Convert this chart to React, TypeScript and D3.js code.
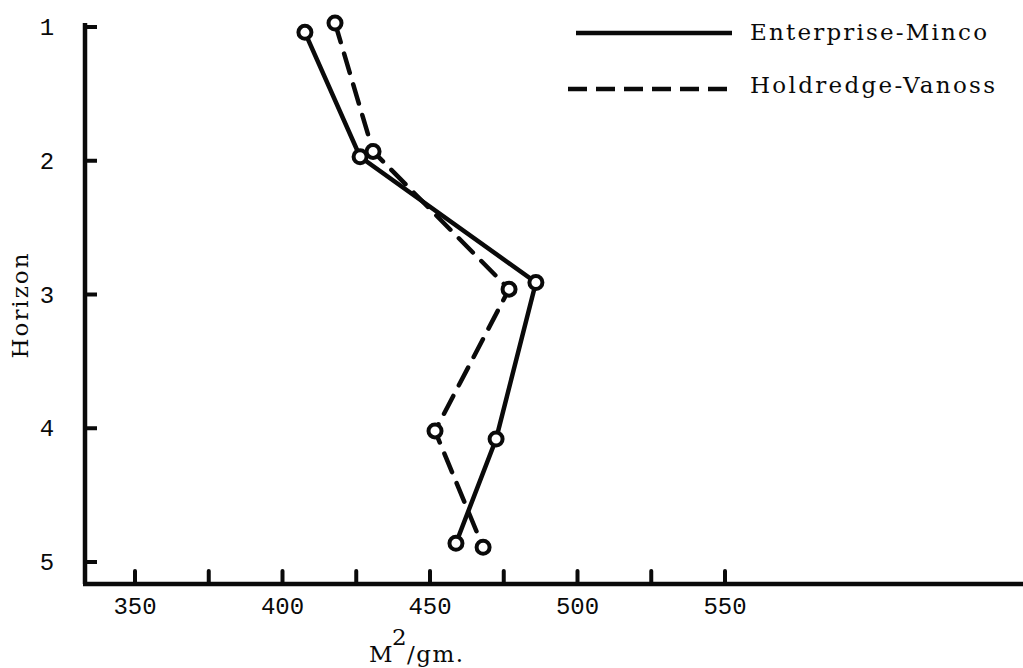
import React from "react";
import * as d3 from "d3";

// ---- data ----
const horizonTicks = [1, 2, 3, 4, 5];
const xTickValues = [350, 375, 400, 425, 450, 475, 500, 525, 550];
const xTickLabels = [350, 400, 450, 500, 550];

const enterpriseArea = [407.6, 426.3, 485.9, 472.4, 458.8];
const enterpriseHorizon = [1.04, 1.97, 2.91, 4.08, 4.86];

const holdredgeArea = [417.8, 430.7, 476.8, 451.7, 468.0];
const holdredgeHorizon = [0.97, 1.93, 2.96, 4.02, 4.89];

const seriesNames = ["Enterprise-Minco", "Holdredge-Vanoss"];

const W = 1023;
const H = 668;

export default function App() {
  const x = d3.scaleLinear().domain([350, 550]).range([135, 725]);
  const y = d3.scaleLinear().domain([1, 5]).range([27, 562]);

  const axisX = 85;
  const axisY = 584;

  const ent = enterpriseArea.map((v, i) => [v, enterpriseHorizon[i]] as [number, number]);
  const hol = holdredgeArea.map((v, i) => [v, holdredgeHorizon[i]] as [number, number]);

  const line = d3
    .line<[number, number]>()
    .x((d) => x(d[0]))
    .y((d) => y(d[1]));

  const ink = "#0a0a0a";
  const wordFont = "'DejaVu Serif', 'Liberation Serif', serif";
  const numFont = "'Liberation Mono', 'DejaVu Sans Mono', monospace";

  return (
    <svg
      width={W}
      height={H}
      style={{ position: "absolute", left: 0, top: 0, background: "#fff" }}
    >
      <rect x={0} y={0} width={W} height={H} fill="#fff" />

      {/* axes */}
      <line x1={axisX} y1={23} x2={axisX} y2={axisY} stroke={ink} strokeWidth={4.5} />
      <line x1={axisX - 2} y1={axisY} x2={W} y2={axisY} stroke={ink} strokeWidth={4.5} />

      {/* y ticks + labels */}
      {horizonTicks.map((h) => (
        <g key={"yt" + h}>
          <line x1={axisX} y1={y(h)} x2={axisX + 12} y2={y(h)} stroke={ink} strokeWidth={4} />
          <text
            x={47}
            y={y(h) + 8}
            textAnchor="middle"
            fontFamily={numFont}
            fontSize={24}
            fill={ink}
          >
            {h}
          </text>
        </g>
      ))}

      {/* x ticks */}
      {xTickValues.map((v) => (
        <line
          key={"xt" + v}
          x1={x(v)}
          y1={axisY}
          x2={x(v)}
          y2={axisY - 13}
          stroke={ink}
          strokeWidth={4}
          strokeLinecap="round"
        />
      ))}
      {xTickLabels.map((v) => (
        <text
          key={"xl" + v}
          x={x(v)}
          y={614}
          textAnchor="middle"
          fontFamily={numFont}
          fontSize={24}
          fill={ink}
        >
          {v}
        </text>
      ))}

      {/* axis titles */}
      <text
        transform="translate(28,306) rotate(-90)"
        textAnchor="middle"
        fontFamily={wordFont}
        fontSize={23}
        textLength={105}
        lengthAdjust="spacing"
        fill={ink}
      >
        Horizon
      </text>
      <text x={369} y={662} fontFamily={wordFont} fontSize={23} fill={ink}>
        M
      </text>
      <text x={392} y={645} fontFamily={wordFont} fontSize={23} fill={ink}>
        2
      </text>
      <text
        x={407}
        y={662}
        fontFamily={wordFont}
        fontSize={23}
        textLength={56}
        lengthAdjust="spacing"
        fill={ink}
      >
        /gm.
      </text>

      {/* series lines */}
      <path d={line(ent) || ""} fill="none" stroke={ink} strokeWidth={4.5} strokeLinecap="round" />
      <path
        d={line(hol) || ""}
        fill="none"
        stroke={ink}
        strokeWidth={4.5}
        strokeDasharray="20,12"
        strokeLinecap="round"
      />

      {/* markers */}
      {ent.map((d, i) => (
        <circle
          key={"ec" + i}
          cx={x(d[0])}
          cy={y(d[1])}
          r={6.5}
          fill="#fff"
          stroke={ink}
          strokeWidth={4}
        />
      ))}
      {hol.map((d, i) => (
        <circle
          key={"hc" + i}
          cx={x(d[0])}
          cy={y(d[1])}
          r={6.5}
          fill="#fff"
          stroke={ink}
          strokeWidth={4}
        />
      ))}

      {/* legend */}
      <line x1={576} y1={33} x2={732} y2={33} stroke={ink} strokeWidth={4.5} />
      <text
        x={750}
        y={40}
        fontFamily={wordFont}
        fontSize={23}
        textLength={237}
        lengthAdjust="spacing"
        fill={ink}
      >
        {seriesNames[0]}
      </text>
      <line
        x1={568}
        y1={89}
        x2={732}
        y2={89}
        stroke={ink}
        strokeWidth={4.5}
        strokeDasharray="19,9"
      />
      <text
        x={750}
        y={93}
        fontFamily={wordFont}
        fontSize={23}
        textLength={245}
        lengthAdjust="spacing"
        fill={ink}
      >
        {seriesNames[1]}
      </text>
    </svg>
  );
}
